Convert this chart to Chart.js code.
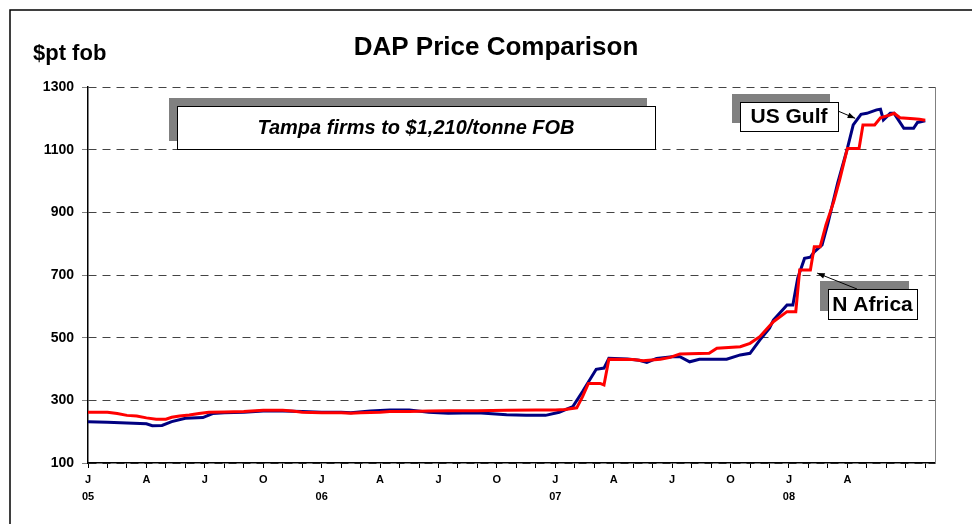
<!DOCTYPE html>
<html>
<head>
<meta charset="utf-8">
<title>DAP Price Comparison</title>
<script src="https://cdn.jsdelivr.net/npm/chart.js@4.4.0/dist/chart.umd.min.js"></script>
<style>
  body { margin: 0; background: #fff; }
  #wrap { width: 972px; height: 524px; }
</style>
</head>
<body>
<div id="wrap"><canvas id="myChart" width="972" height="524"></canvas></div>
<script>
// tick labels
const quarterLetters = ['J', 'A', 'J', 'O'];
const yearLabels = ['05', '06', '07', '08'];
const lastLabelMonth = 39; // Apr 08 is the last labelled quarter

// months counted from Jan 2005 (0 = Jan 05), prices in $/t fob
const usGulfMonths = [0, 1, 2, 3, 3.3, 3.8, 4.3, 5, 5.9, 6.4,
  7, 8, 9, 10, 11, 12, 13, 13.5, 14.5, 15.5,
  16.5, 17.5, 18.5, 20, 21.5, 22.5, 23.5, 24.2, 24.9, 25.4,
  26.1, 26.5, 26.75, 27.7, 28.3, 28.7, 29.2, 30, 30.4, 30.9,
  31.4, 32.8, 33.5, 34, 34.5, 35, 35.2, 35.9, 36.2, 36.45,
  36.8, 37.1, 37.3, 37.7, 38, 38.5, 39, 39.3, 39.7, 40,
  40.5, 40.7, 40.85, 41.2, 41.4, 41.9, 42.4, 42.6, 43];
const usGulfPrices = [232, 230, 228, 225, 219, 220, 232, 243, 245, 258,
  260, 262, 266, 266, 264, 262, 262, 260, 266, 269,
  269, 262, 259, 260, 254, 252, 252, 262, 280, 328,
  399, 403, 434, 432, 428, 421, 434, 439, 439, 423,
  431, 431, 445, 450, 492, 530, 556, 604, 604, 690,
  753, 757, 774, 796, 865, 993, 1104, 1179, 1213, 1216,
  1227, 1229, 1195, 1216, 1216, 1168, 1168, 1187, 1192];

const nAfricaMonths = [0, 1, 1.5, 2, 2.5, 3, 3.5, 4, 4.3, 4.7,
  5.2, 5.7, 6.2, 7, 8, 9, 10, 10.5, 11, 12,
  13, 13.5, 14, 15, 15.5, 16.5, 17.5, 18.5, 20, 21.5,
  23, 24, 24.5, 25.1, 25.4, 25.7, 26.3, 26.5, 26.75, 28,
  28.5, 29.4, 29.9, 30.4, 31.9, 32.3, 33.5, 34, 34.5, 35.2,
  35.9, 36.35, 36.55, 37.1, 37.3, 37.6, 37.9, 38.3, 38.6, 39,
  39.6, 39.8, 40.4, 40.7, 41.2, 41.4, 41.7, 42.4, 42.7, 43];
const nAfricaPrices = [262, 262, 258, 252, 250, 244, 240, 240, 246, 250,
  253, 258, 262, 263, 264, 268, 268, 266, 262, 260,
  260, 259, 260, 262, 264, 264, 266, 267, 267, 268,
  269, 269, 271, 276, 312, 354, 354, 349, 431, 430,
  426, 431, 437, 448, 450, 466, 471, 482, 503, 551,
  583, 583, 716, 716, 790, 790, 860, 934, 1003, 1104,
  1104, 1179, 1179, 1202, 1211, 1216, 1202, 1199, 1197, 1194];

const toPoints = (xs, ys) => xs.map((m, i) => ({ x: m, y: ys[i] }));

const FONT = '"Liberation Sans", Arial, sans-serif';

function callout(ctx, x, y, w, h, text, font) {
  ctx.fillStyle = '#808080';
  ctx.fillRect(x - 8, y - 8, w, h);
  ctx.fillStyle = '#fff';
  ctx.fillRect(x, y, w, h);
  ctx.strokeStyle = '#000';
  ctx.lineWidth = 1;
  ctx.strokeRect(x + 0.5, y + 0.5, w, h);
  ctx.fillStyle = '#000';
  ctx.font = font;
  ctx.textAlign = 'center';
  ctx.textBaseline = 'middle';
  ctx.fillText(text, x + w / 2, y + h / 2 + 1);
}

function arrow(ctx, x1, y1, x2, y2) {
  const a = Math.atan2(y2 - y1, x2 - x1);
  ctx.strokeStyle = '#000';
  ctx.fillStyle = '#000';
  ctx.lineWidth = 1;
  ctx.beginPath();
  ctx.moveTo(x1, y1);
  ctx.lineTo(x2, y2);
  ctx.stroke();
  ctx.beginPath();
  ctx.moveTo(x2, y2);
  ctx.lineTo(x2 - 8 * Math.cos(a - 0.35), y2 - 8 * Math.sin(a - 0.35));
  ctx.lineTo(x2 - 8 * Math.cos(a + 0.35), y2 - 8 * Math.sin(a + 0.35));
  ctx.closePath();
  ctx.fill();
}

const decorations = {
  id: 'decorations',
  afterDraw(chart) {
    const ctx = chart.ctx;
    const area = chart.chartArea;
    const xs = chart.scales.x;
    const ys = chart.scales.y;
    ctx.save();
    // outer frame
    ctx.strokeStyle = '#000';
    ctx.lineWidth = 1.5;
    ctx.beginPath();
    ctx.moveTo(10, 524);
    ctx.lineTo(10, 10);
    ctx.lineTo(972, 10);
    ctx.stroke();
    // right edge of plot
    ctx.strokeStyle = '#808080';
    ctx.lineWidth = 1;
    ctx.beginPath();
    ctx.moveTo(area.right + 0.5, area.top);
    ctx.lineTo(area.right + 0.5, area.bottom);
    ctx.stroke();
    // titles
    ctx.fillStyle = '#000';
    ctx.textBaseline = 'alphabetic';
    ctx.textAlign = 'center';
    ctx.font = 'bold 26px ' + FONT;
    ctx.fillText('DAP Price Comparison', 496, 55);
    ctx.textAlign = 'left';
    ctx.font = 'bold 22px ' + FONT;
    ctx.fillText('$pt fob', 33, 60);
    // callouts
    callout(ctx, 177, 106, 478, 43, 'Tampa firms to $1,210/tonne FOB', 'italic bold 20px ' + FONT);
    callout(ctx, 740, 102, 98, 29, 'US Gulf', 'bold 21px ' + FONT);
    callout(ctx, 828, 289, 89, 30, 'N Africa', 'bold 21px ' + FONT);
    arrow(ctx, 838, 111, xs.getPixelForValue(39.4), ys.getPixelForValue(1200));
    arrow(ctx, 857, 289, xs.getPixelForValue(37.45), ys.getPixelForValue(706));
    ctx.restore();
  }
};

const config = {
  type: 'line',
  data: {
    datasets: [
      {
        label: 'US Gulf',
        data: toPoints(usGulfMonths, usGulfPrices),
        borderColor: '#000080',
        borderWidth: 3,
        pointRadius: 0,
        tension: 0,
        order: 1
      },
      {
        label: 'N Africa',
        data: toPoints(nAfricaMonths, nAfricaPrices),
        borderColor: '#ff0000',
        borderWidth: 3,
        pointRadius: 0,
        tension: 0,
        order: 0
      }
    ]
  },
  options: {
    responsive: false,
    animation: false,
    devicePixelRatio: 1,
    layout: { padding: { top: 87, right: 37, left: 0, bottom: 0 } },
    plugins: {
      legend: { display: false },
      tooltip: { enabled: false }
    },
    scales: {
      x: {
        type: 'linear',
        min: 0,
        max: 43.5,
        afterFit: (scale) => { scale.height = 61; },
        border: { display: true, color: '#000', width: 1.5 },
        grid: { drawOnChartArea: false, drawTicks: true, tickLength: 5, tickColor: '#000', tickWidth: 1 },
        ticks: {
          stepSize: 1,
          autoSkip: false,
          includeBounds: false,
          maxRotation: 0,
          padding: 4,
          color: '#000',
          font: { family: FONT, size: 11, weight: 'bold', lineHeight: 1.5 },
          callback: (value) => {
            const m = Math.round(value);
            if (m % 3 !== 0 || m > lastLabelMonth) return '';
            const letter = quarterLetters[(m / 3) % 4];
            if (m % 12 === 0) return [letter, yearLabels[m / 12]];
            return letter;
          }
        }
      },
      y: {
        min: 100,
        max: 1300,
        afterFit: (scale) => { scale.width = 88; },
        border: { display: true, color: '#000', width: 1.5, dash: [8, 6] },
        grid: { color: '#444', lineWidth: 1, drawTicks: true, tickLength: 6, tickColor: '#808080' },
        ticks: {
          stepSize: 200,
          padding: 8,
          color: '#000',
          font: { family: FONT, size: 14, weight: 'bold' },
          callback: (value) => String(value)
        }
      }
    }
  },
  plugins: [decorations]
};

const myChart = new Chart(document.getElementById('myChart'), config);
</script>
</body>
</html>
